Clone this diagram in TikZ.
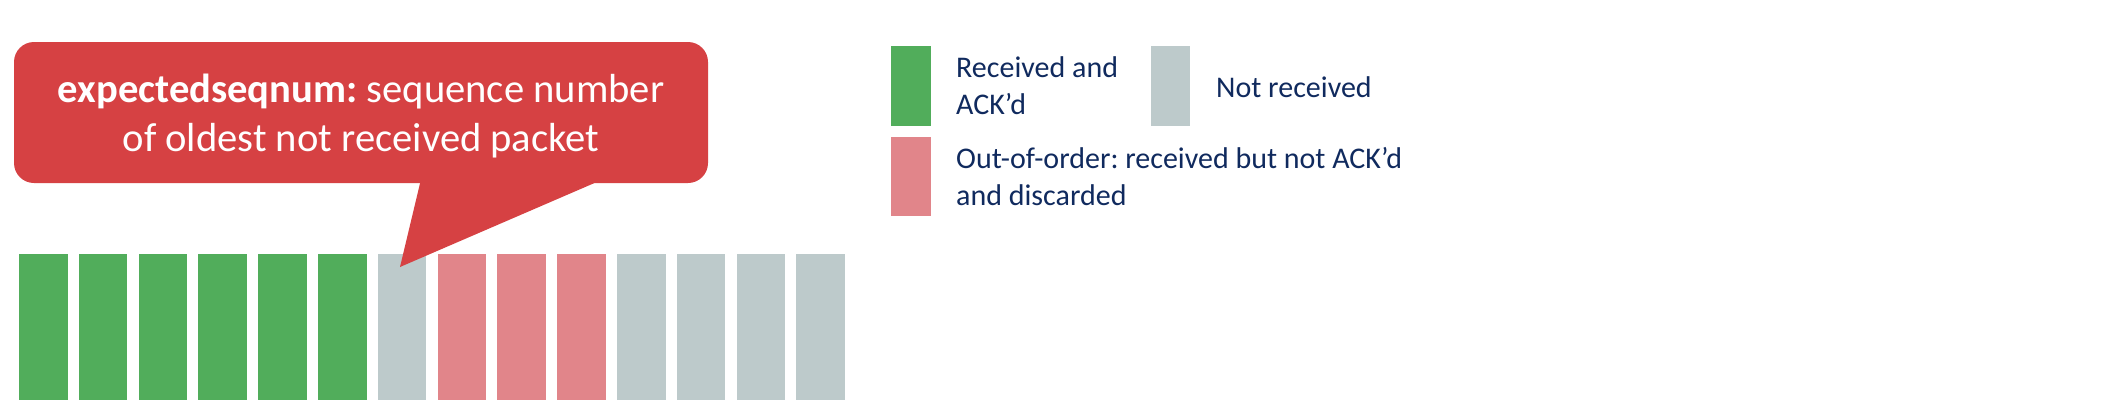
\documentclass[tikz,border=0pt]{standalone}
\usepackage{fontspec}
\setmainfont{Carlito}
\frenchspacing
\definecolor{ackgreen}{HTML}{51AD5B}
\definecolor{notrcv}{HTML}{BDCACB}
\definecolor{ooo}{HTML}{E1858A}
\definecolor{callred}{HTML}{D64143}
\definecolor{navy}{HTML}{102A5E}
\begin{document}
\begin{tikzpicture}[x=1pt,y=-1pt,
  pkt/.style={minimum width=48.5pt,minimum height=146pt,inner sep=0pt,outer sep=0pt,anchor=north west},
  keybox/.style={minimum width=40pt,minimum height=80pt,inner sep=0pt,outer sep=0pt,anchor=north west},
  keytext/.style={anchor=base west,inner sep=0pt,text=navy,font=\fontsize{30}{37}\selectfont,align=left},
  ]
\useasboundingbox[fill=white] (0,0) rectangle (2126,416);
% packets
\foreach \i/\c in {0/ackgreen,1/ackgreen,2/ackgreen,3/ackgreen,4/ackgreen,5/ackgreen,
                   6/notrcv,7/ooo,8/ooo,9/ooo,10/notrcv,11/notrcv,12/notrcv,13/notrcv}
  \node[pkt, fill=\c] (p\i) at ({19+59.8*\i},254) {};
% callout
\node[fill=callred, rounded corners=20pt, minimum width=694pt, minimum height=141pt,
      anchor=north west, inner sep=0pt, outer sep=0pt] (cbox) at (14,42) {};
\coordinate (tailL) at (422,175);
\coordinate (tailR) at (613,175);
\coordinate (tip) at (400,267);
\fill[callred] (tailL) -- (tip) -- (tailR) -- cycle;
\node[anchor=base, text=white, font=\fontsize{40.6}{49}\selectfont, align=center, inner sep=0pt]
  (ctext) at (361,151) {\textbf{expectedseqnum:} sequence number\\of oldest not received packet};
% legend
\node[keybox, fill=ackgreen] (kg) at (891,46) {};
\node[keybox, fill=notrcv, minimum width=39pt] (kn) at (1151,46) {};
\node[keybox, fill=ooo, minimum height=79pt] (ko) at (891,137) {};
\node[keytext] (tg) at (956,114) {Received and\\ACK’d};
\node[keytext] (tn) at (1216,97) {Not received};
\node[keytext] (to) at (956,205) {Out-of-order: received but not ACK’d\\and discarded};
\end{tikzpicture}
\end{document}
